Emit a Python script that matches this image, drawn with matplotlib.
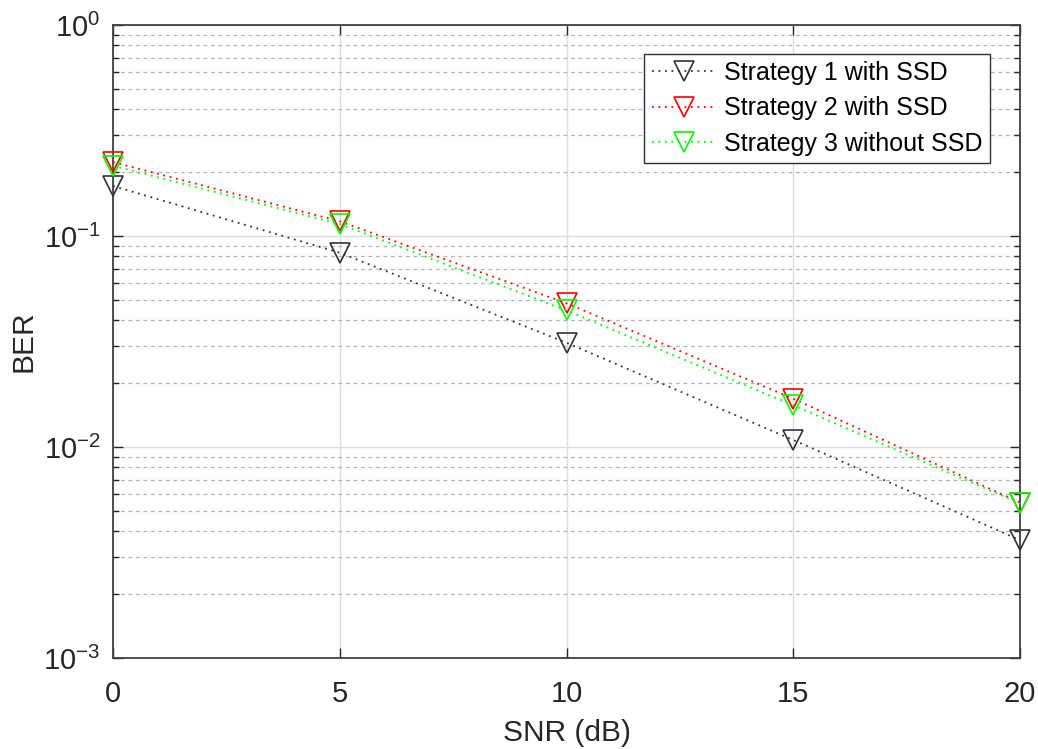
import numpy as np
import matplotlib
matplotlib.use("Agg")
import matplotlib.pyplot as plt
from matplotlib.ticker import LogLocator, NullFormatter, FixedFormatter

plt.rcParams['font.family'] = ['Liberation Sans', 'DejaVu Sans']
plt.rcParams['axes.unicode_minus'] = False
plt.rcParams['mathtext.fontset'] = 'custom'
plt.rcParams['mathtext.rm'] = 'Liberation Sans'
plt.rcParams['mathtext.default'] = 'rm'

# BER values per strategy
snr = [0, 5, 10, 15, 20]
ber_s1 = [0.1726, 0.0833, 0.0312, 0.0108, 0.00362]
ber_s2 = [0.224, 0.1174, 0.048, 0.01694, 0.00545]
ber_s3 = [0.215, 0.114, 0.0444, 0.01577, 0.0054]
labels = ['Strategy 1 with SSD', 'Strategy 2 with SSD', 'Strategy 3 without SSD']
ytick_vals = [1e-3, 1e-2, 1e-1, 1e0]
ytick_labels = ['$10^{-3}$', '$10^{-2}$', '$10^{-1}$', '$10^{0}$']

fig = plt.figure(figsize=(10.38, 7.49), dpi=100)
ax = fig.add_axes([0.1089, 0.1215, 0.8738, 0.8451])

for y, c, lab in zip([ber_s1, ber_s2, ber_s3], ['#333333', '#ff0000', '#00ff00'], labels):
    ax.semilogy(snr, y, linestyle=(0, (1, 2.6)), color=c, lw=1.3, marker='v', ms=14,
                markerfacecolor='none', markeredgecolor=c, markeredgewidth=1.2,
                label=lab, clip_on=False, zorder=3)

ax.set_xlim(0, 20)
ax.set_ylim(1e-3, 1)
ax.set_xticks([0, 5, 10, 15, 20])
ax.set_yticks(ytick_vals)
ax.yaxis.set_major_formatter(FixedFormatter(ytick_labels))
ax.yaxis.set_minor_locator(LogLocator(base=10, subs=np.arange(2, 10), numticks=20))
ax.yaxis.set_minor_formatter(NullFormatter())

# grid: solid majors, dashed minors
ax.grid(True, which='major', color='#dcdcdc', linestyle='-', lw=1.0)
ax.grid(True, which='minor', axis='y', color='#b4b4b4', linestyle=(0, (3, 3)), lw=0.9)
ax.set_axisbelow(True)

ax.tick_params(which='both', direction='in', top=True, right=True, colors='#262626',
               labelcolor='#262626')
ax.tick_params(axis='x', labelsize=21, pad=16)
ax.tick_params(axis='y', labelsize=21, pad=9)
ax.tick_params(which='major', length=7, width=1.0)
ax.tick_params(which='minor', length=4, width=1.0)
for s in ax.spines.values():
    s.set_color('#404040')
    s.set_linewidth(1.3)

ax.set_xlabel('SNR (dB)', fontsize=21.5, color='#262626', labelpad=8)
ax.set_ylabel('BER', fontsize=21.5, color='#262626', labelpad=4)

leg = ax.legend(loc='upper right', bbox_to_anchor=(0.967, 0.955), fontsize=18,
                fancybox=False, framealpha=1, edgecolor='#303030',
                handlelength=2.6, handletextpad=0.3, borderpad=0.3, labelspacing=0.45,
                borderaxespad=0)
leg.get_frame().set_linewidth(1.0)

fig.savefig('out.png', dpi=100)
